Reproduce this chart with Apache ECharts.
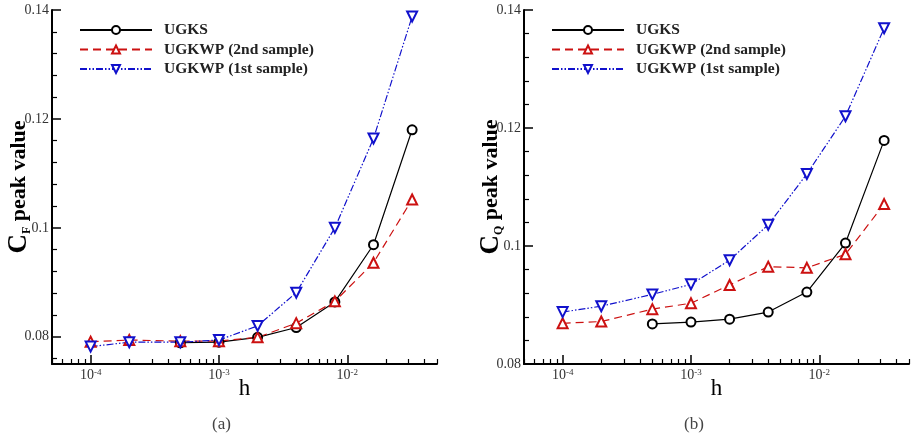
<!DOCTYPE html>
<html>
<head>
<meta charset="utf-8">
<script src="https://cdn.jsdelivr.net/npm/echarts@6/dist/echarts.min.js"></script>
<style>
    html, body { margin: 0; padding: 0; background: #fff; }
    #chart { width: 916px; height: 441px; }
</style>
</head>
<body>
<div id="chart"></div>
<script>
// 网格步长 h
const hVals = [1e-4, 2e-4, 5e-4, 1e-3, 2e-3, 4e-3, 8e-3, 1.6e-2, 3.2e-2];

// (a) C_F 峰值
const cfUgks = [null, null, 0.0789, 0.0790, 0.0799, 0.0817, 0.0864, 0.0969, 0.1180];
const cf2nd = [0.0791, 0.0794, 0.0792, 0.0792, 0.0799, 0.0825, 0.0865, 0.0936, 0.1052];
const cf1st = [0.0782, 0.0790, 0.0790, 0.0794, 0.0820, 0.0881, 0.1000, 0.1164, 0.1388];

// (b) C_Q 峰值
const cqUgks = [null, null, 0.0868, 0.0871, 0.0876, 0.0888, 0.0922, 0.1005, 0.1179];
const cq2nd = [0.0869, 0.0872, 0.0893, 0.0903, 0.0934, 0.0965, 0.0963, 0.0986, 0.1071];
const cq1st = [0.0888, 0.0898, 0.0918, 0.0935, 0.0976, 0.1036, 0.1122, 0.1220, 0.1369];

// 刻度
const xMajor = [1e-4, 1e-3, 1e-2];
const xMinor = [5e-5, 6e-5, 7e-5, 8e-5, 9e-5,
    2e-4, 3e-4, 4e-4, 5e-4, 6e-4, 7e-4, 8e-4, 9e-4,
    2e-3, 3e-3, 4e-3, 5e-3, 6e-3, 7e-3, 8e-3, 9e-3,
    2e-2, 3e-2, 4e-2, 5e-2];
const yMajor = [0.08, 0.1, 0.12, 0.14];
const yMinor = [0.076, 0.084, 0.088, 0.092, 0.096, 0.104, 0.108, 0.112, 0.116,
    0.124, 0.128, 0.132, 0.136];

const names = ['UGKS', 'UGKWP (2nd sample)', 'UGKWP (1st sample)'];
const SERIF = '"Liberation Serif", "DejaVu Serif", serif';
const X_MIN = 5e-5, X_MAX = 5e-2;
const Y_MIN = [0.075, 0.08];

function pairs(ys){
    let arr = [];
    for(let i = 0; i < hVals.length; i++){
        if(ys[i] !== null) arr.push([hVals[i], ys[i]]);
    }
    return arr;
}

// 主刻度轴 + 次刻度轴（对数）
function xAxes(grid){
    let base = {
        type: 'log', gridIndex: grid, min: X_MIN, max: X_MAX,
        position: 'bottom', axisLine: { onZero: false },
        splitLine: { show: false }
    };
    return [
        Object.assign({}, base, {
            name: 'h', nameLocation: 'middle', nameGap: 13, nameMoveOverlap: false,
            nameTextStyle: { fontFamily: SERIF, fontSize: 23, color: '#000' },
            axisLine: { show: true, onZero: false, lineStyle: { color: '#000', width: 2 } },
            axisTick: { show: true, inside: true, length: 9, customValues: xMajor, lineStyle: { color: '#000', width: 1.5 } },
            axisLabel: {
                customValues: xMajor, margin: 4,
                formatter: (v) => '{b|10}{s|' + Math.round(Math.log10(v)) + '}',
                rich: {
                    b: { fontFamily: SERIF, fontSize: 14, color: '#333' },
                    s: { fontFamily: SERIF, fontSize: 9, color: '#333', verticalAlign: 'top' }
                }
            }
        }),
        Object.assign({}, base, {
            axisLine: { show: false, onZero: false },
            axisTick: { show: true, inside: true, length: 5, customValues: xMinor, lineStyle: { color: '#000', width: 1.2 } },
            axisLabel: { show: false }
        })
    ];
}

function yAxes(grid, sub){
    let base = {
        type: 'value', gridIndex: grid, min: Y_MIN[grid], max: 0.14,
        position: 'left', axisLine: { onZero: false },
        splitLine: { show: false }
    };
    return [
        Object.assign({}, base, {
            name: '{c|C}{s|' + sub + '}{t| peak value}',
            nameLocation: 'middle', nameGap: 19, nameRotate: 90,
            nameMoveOverlap: false,
            nameTextStyle: {
                rich: {
                    c: { fontFamily: SERIF, fontSize: 27, fontWeight: 'bold', color: '#000' },
                    s: { fontFamily: SERIF, fontSize: 12, fontWeight: 'bold', color: '#000', verticalAlign: 'bottom' },
                    t: { fontFamily: SERIF, fontSize: 22, fontWeight: 'bold', color: '#000' }
                }
            },
            axisLine: { show: true, onZero: false, lineStyle: { color: '#000', width: 2 } },
            axisTick: { show: true, inside: true, length: 9, customValues: yMajor, lineStyle: { color: '#000', width: 1.5 } },
            axisLabel: {
                customValues: yMajor, margin: 3,
                fontFamily: SERIF, fontSize: 14, color: '#333',
                formatter: (v) => String(+v.toFixed(2))
            }
        }),
        Object.assign({}, base, {
            axisLine: { show: false, onZero: false },
            axisTick: { show: true, inside: true, length: 5, customValues: yMinor, lineStyle: { color: '#000', width: 1.2 } },
            axisLabel: { show: false }
        })
    ];
}

function makeSeries(axisIdx, ugks, s2, s1){
    let common = { type: 'line', xAxisIndex: axisIdx, yAxisIndex: axisIdx, symbolSize: 9, z: 3 };
    return [
        Object.assign({}, common, {
            name: names[0], data: pairs(ugks), symbol: 'emptyCircle',
            lineStyle: { color: '#000', width: 1.2, type: 'solid' },
            itemStyle: { color: '#000', borderWidth: 1.2 }
        }),
        Object.assign({}, common, {
            name: names[1], data: pairs(s2), symbol: 'emptyTriangle', symbolSize: 10,
            lineStyle: { color: '#cc1111', width: 1.2, type: [8, 5] },
            itemStyle: { color: '#cc1111', borderWidth: 1.2 }
        }),
        Object.assign({}, common, {
            name: names[2], data: pairs(s1), symbol: 'emptyTriangle', symbolSize: 10, symbolRotate: 180,
            lineStyle: { color: '#1111cc', width: 1.2, type: [7, 2, 1.5, 2, 1.5, 2] },
            itemStyle: { color: '#1111cc', borderWidth: 1.2 }
        })
    ];
}

function legend(left){
    return {
        orient: 'vertical', left: left, top: 22, padding: 0,
        itemWidth: 72, itemHeight: 10, itemGap: 3.5,
        selectedMode: false,
        textStyle: { fontFamily: SERIF, fontSize: 15.5, fontWeight: 'bold', color: '#222', lineHeight: 16, padding: [0, 0, 0, 7] },
        data: names
    };
}

// 备用：如果轴刻度没有画出来，用 custom 系列按坐标轴换算画刻度
function tickSeries(grid){
    let axisIdx = grid * 2;
    let data = [];
    xMajor.forEach(v => data.push([v, Y_MIN[grid], 'x', 9]));
    xMinor.forEach(v => data.push([v, Y_MIN[grid], 'x', 5]));
    yMajor.forEach(v => data.push([X_MIN, v, 'y', 9]));
    yMinor.forEach(v => data.push([X_MIN, v, 'y', 5]));
    return {
        type: 'custom', xAxisIndex: axisIdx, yAxisIndex: axisIdx, silent: true, clip: false, z: 4,
        data: data,
        renderItem: function(params, api){
            let p = api.coord([api.value(0), api.value(1)]);
            let len = api.value(3);
            let horizontal = data[params.dataIndex][2] === 'y';
            let shape = horizontal
                ? { x1: p[0], y1: p[1], x2: p[0] + len, y2: p[1] }
                : { x1: p[0], y1: p[1], x2: p[0], y2: p[1] - len };
            return { type: 'line', shape: shape, style: { stroke: '#000', lineWidth: len > 6 ? 1.5 : 1.2 } };
        }
    };
}

let chart = echarts.init(document.getElementById('chart'));
let option = {
    backgroundColor: '#fff',
    animation: false,
    grid: [
        { left: 52, top: 10, width: 385, height: 354 },
        { left: 524, top: 10, width: 385, height: 354 }
    ],
    xAxis: xAxes(0).concat(xAxes(1)),
    yAxis: yAxes(0, 'F').concat(yAxes(1, 'Q')),
    legend: [legend(79), legend(551)],
    series: makeSeries(0, cfUgks, cf2nd, cf1st).concat(makeSeries(2, cqUgks, cq2nd, cq1st)),
    graphic: [
        { type: 'text', left: 212, top: 416, style: { text: '(a)', font: '17px ' + SERIF, fill: '#444' } },
        { type: 'text', left: 684, top: 416, style: { text: '(b)', font: '17px ' + SERIF, fill: '#444' } }
    ]
};
chart.setOption(option);

// 检查 10^-4 主刻度处是否有深色像素
function ticksVisible(){
    let canvas = document.querySelector('#chart canvas');
    if(!canvas) return true;
    let p = chart.convertToPixel({ xAxisIndex: 0, yAxisIndex: 0 }, [1e-4, 0.1]);
    let x = Math.round(p[0]);
    let img = canvas.getContext('2d').getImageData(x - 2, 356, 5, 4).data;
    for(let i = 0; i < img.length; i += 4){
        if(img[i] < 110 && img[i + 1] < 110 && img[i + 2] < 110) return true;
    }
    return false;
}
chart.getZr().flush();
if(!ticksVisible()){
    option.series = option.series.concat([tickSeries(0), tickSeries(1)]);
    chart.setOption(option);
}
</script>
</body>
</html>
